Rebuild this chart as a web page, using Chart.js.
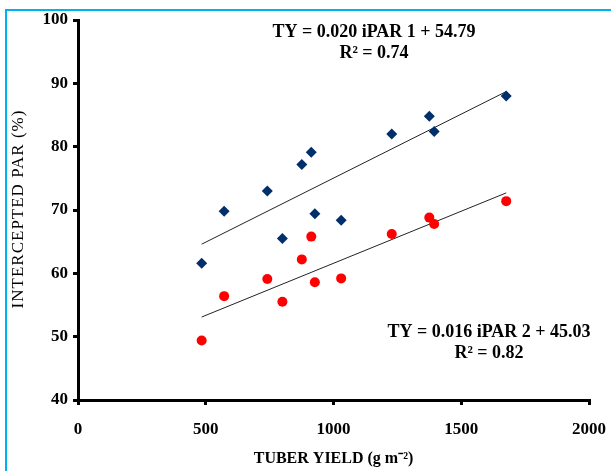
<!DOCTYPE html>
<html>
<head>
<meta charset="utf-8">
<script src="https://cdn.jsdelivr.net/npm/chart.js@4.4.0/dist/chart.umd.min.js"></script>
<style>
  html, body { margin: 0; padding: 0; background: #fff; }
  #wrap { position: relative; width: 611px; height: 471px; overflow: hidden; }
  #frame { position: absolute; left: 5px; top: 9px; width: 700px; height: 600px;
           border-left: 2px solid #00b0f0; border-top: 2px solid #00b0f0; pointer-events: none; }
  canvas { position: absolute; left: 0; top: 0; }
</style>
</head>
<body>
<div id="wrap">
  <canvas id="chart" width="611" height="471"></canvas>
  <div id="frame"></div>
</div>
<script>
// Tuber yield (g m-2), shared by both series
const tuberYield = [484, 572, 741, 800, 876, 913, 927, 1030, 1228, 1375, 1394, 1676];
// Intercepted PAR (%) - series 1 (blue diamonds) and series 2 (red circles)
const ipar1 = [61.6, 69.8, 73.0, 65.5, 77.2, 79.1, 69.4, 68.4, 82.0, 84.8, 82.4, 88.0];
const ipar2 = [49.4, 56.4, 59.1, 55.5, 62.2, 65.8, 58.6, 59.2, 66.2, 68.8, 67.8, 71.4];

// Trendline endpoints
const trendX = [484, 1676];
const trend1Y = [64.6, 88.7];
const trend2Y = [53.1, 72.7];

const eq1 = ['TY = 0.020 iPAR 1 + 54.79', 'R\u00b2 = 0.74'];
const eq2 = ['TY = 0.016 iPAR 2 + 45.03', 'R\u00b2 = 0.82'];
const yTitle = 'INTERCEPTED PAR (%)';

const serif = '"Liberation Serif", "Times New Roman", serif';

function pairs(xs, ys) {
    return xs.map((x, i) => ({ x: x, y: ys[i] }));
}

// draws the regression equations and the (stretched) y axis title
const extraText = {
    id: 'extraText',
    afterDraw(chart) {
        const ctx = chart.ctx;
        ctx.save();
        ctx.fillStyle = '#000';
        ctx.font = 'bold 18px ' + serif;
        ctx.textAlign = 'center';
        ctx.textBaseline = 'middle';
        ctx.fillText(eq1[0], 374, 32);
        ctx.fillText(eq1[1], 374, 53);
        ctx.fillText(eq2[0], 489, 332);
        ctx.fillText(eq2[1], 489, 353);

        ctx.translate(19, 209);
        ctx.rotate(-Math.PI / 2);
        ctx.font = '17px ' + serif;
        ctx.letterSpacing = '1px';
        ctx.fillText(yTitle, 0, 0);
        ctx.restore();
    }
};

const ctx = document.getElementById('chart').getContext('2d');
new Chart(ctx, {
    type: 'scatter',
    data: {
        datasets: [
            {
                label: 'iPAR 1',
                data: pairs(tuberYield, ipar1),
                pointStyle: 'rectRot',
                pointRadius: 5.5,
                pointBorderWidth: 0,
                backgroundColor: '#002f6c',
                borderColor: '#002f6c'
            },
            {
                label: 'iPAR 2',
                data: pairs(tuberYield, ipar2),
                pointStyle: 'circle',
                pointRadius: 5,
                pointBorderWidth: 0,
                backgroundColor: '#ff0000',
                borderColor: '#ff0000'
            },
            {
                label: 'trend 1',
                data: pairs(trendX, trend1Y),
                showLine: true,
                pointRadius: 0,
                borderWidth: 1,
                borderColor: '#222'
            },
            {
                label: 'trend 2',
                data: pairs(trendX, trend2Y),
                showLine: true,
                pointRadius: 0,
                borderWidth: 1,
                borderColor: '#222'
            }
        ]
    },
    options: {
        responsive: false,
        animation: false,
        layout: { padding: { left: 0, top: 20, right: 22, bottom: 0 } },
        plugins: {
            legend: { display: false },
            tooltip: { enabled: false }
        },
        scales: {
            x: {
                type: 'linear',
                min: 0,
                max: 2000,
                ticks: {
                    stepSize: 500,
                    color: '#000',
                    padding: 14,
                    maxRotation: 0,
                    callback: v => String(v),
                    font: { family: serif, size: 17, weight: 'bold' }
                },
                grid: { drawOnChartArea: false, drawTicks: true, tickLength: 5, color: '#000', lineWidth: 3 },
                border: { color: '#000', width: 3 },
                title: {
                    display: true,
                    text: 'TUBER YIELD (g m\u207b\u00b2)',
                    color: '#000',
                    font: { family: serif, size: 16, weight: 'bold' },
                    padding: { top: 0, bottom: 3 }
                },
                afterFit(scale) {
                    scale.height = 71;
                    scale.paddingLeft = 0;
                    scale.paddingRight = 0;
                }
            },
            y: {
                min: 40,
                max: 100,
                ticks: {
                    stepSize: 10,
                    color: '#000',
                    padding: 5,
                    font: { family: serif, size: 17, weight: 'bold' }
                },
                grid: { drawOnChartArea: false, drawTicks: true, tickLength: 5, color: '#000', lineWidth: 3 },
                border: { color: '#000', width: 3 },
                afterFit(scale) {
                    scale.width = 78;
                    scale.paddingTop = 0;
                    scale.paddingBottom = 0;
                }
            }
        }
    },
    plugins: [extraText]
});
</script>
</body>
</html>
